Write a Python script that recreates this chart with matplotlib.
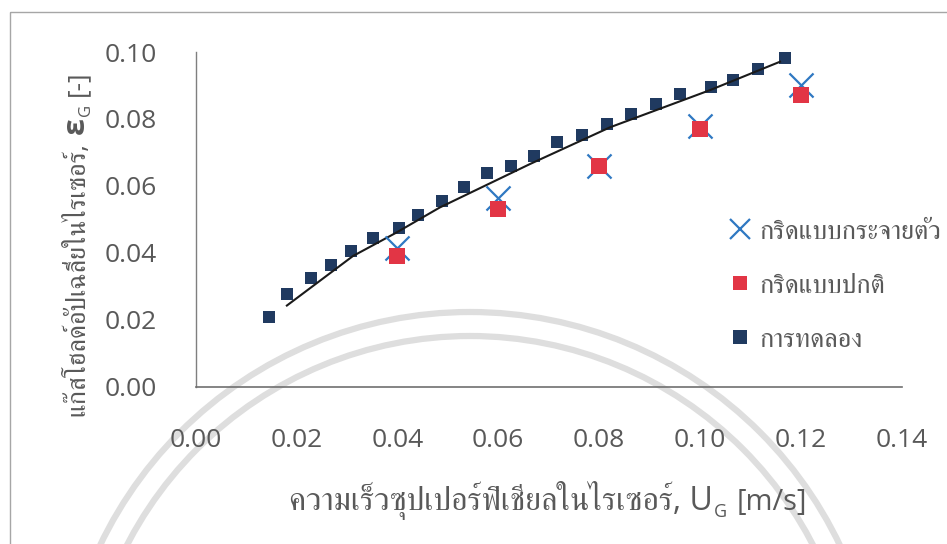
import numpy as np
import matplotlib
matplotlib.use("Agg")
import matplotlib.pyplot as plt
from matplotlib.lines import Line2D
from matplotlib.patches import Arc, Rectangle
from matplotlib.ticker import FormatStrFormatter

# Thai glyphs are only found in FreeSerif, so it sits after the Latin face
plt.rcParams['font.family'] = ['Open Sans', 'FreeSerif', 'DejaVu Sans']

# experimental gas hold-up in the riser
ug_exp = [0.0146, 0.0181, 0.0228, 0.0268, 0.0309, 0.0352, 0.0403, 0.0442,
          0.0488, 0.0533, 0.0578, 0.0625, 0.0671, 0.0717, 0.0766, 0.0815,
          0.0863, 0.0913, 0.0961, 0.1023, 0.1065, 0.1115, 0.1168]
eg_exp = [0.0208, 0.0278, 0.0325, 0.0362, 0.0406, 0.0445, 0.0473, 0.0513,
          0.0555, 0.0595, 0.0637, 0.0660, 0.0690, 0.0730, 0.0752, 0.0785,
          0.0815, 0.0845, 0.0875, 0.0895, 0.0915, 0.0950, 0.0983]

# simulation results for the two grids
ug_sim = [0.04, 0.06, 0.08, 0.10, 0.12]
eg_uniform = [0.039, 0.053, 0.066, 0.077, 0.087]
eg_dispersed = [0.0415, 0.0565, 0.066, 0.078, 0.090]

# trend curve through the experimental data
ug_fit = [0.0181, 0.0312, 0.0398, 0.0484, 0.0663, 0.0822, 0.1020, 0.1159]
eg_fit = [0.0242, 0.0390, 0.0460, 0.0535, 0.0665, 0.0775, 0.0886, 0.0971]

lbl_dispersed = 'กริดแบบกระจายตัว'
lbl_uniform = 'กริดแบบปกติ'
lbl_exp = 'การทดลอง'
xlabel_parts = ['ความเร็วซุปเปอร์ฟิเชียลในไรเซอร์, U', 'G', '[m/s]']
ylabel_parts = ['แก๊สโฮลด์อัปเฉลี่ยในไรเซอร์,', 'ε', 'G', '[-]']

TXT = '#595959'
W, H = 947, 544
fig = plt.figure(figsize=(W / 100, H / 100), dpi=100)


def pieced_label(parts, cx, base, vertical=False):
    """Lay out (text, size, weight, drop, gap) runs one after another.

    Mathtext cannot fall back to the Thai face, so subscripts are
    drawn as separate small runs.  cx is the centre along the text
    direction, base the baseline position, both in pixels from the
    bottom-left corner.
    """
    renderer = fig.canvas.get_renderer()
    runs = []
    total = 0.0
    for s, size, weight, drop, gap in parts:
        t = fig.text(0, 0, s, fontsize=size, fontweight=weight, color=TXT,
                     ha='left', va='baseline', rotation_mode='anchor')
        w = t.get_window_extent(renderer).width
        runs.append((t, total + gap, drop))
        total += gap + w
    start = cx - total / 2
    for t, off, drop in runs:
        if vertical:
            t.set_rotation(90)
            t.set_position(((base + drop) / W, (start + off) / H))
        else:
            t.set_position(((start + off) / W, (base - drop) / H))


# background layer: chart frame and the faint seal behind the plot
bg = fig.add_axes([0, 0, 1, 1], zorder=-5)
bg.set_xlim(0, W)
bg.set_ylim(H, 0)
bg.axis('off')
for r in (410, 386):
    bg.add_patch(Arc((470, 722), 2 * r, 2 * r, theta1=180, theta2=360,
                     color='#dedede', lw=4.5))
bg.add_patch(Rectangle((10, 12), W + 20, H + 20, fill=False,
                       edgecolor='#a6a6a6', lw=1.0))

ax = fig.add_axes([195.6 / W, 1 - 386.5 / H, 706 / W, 334.5 / H])
ax.patch.set_alpha(0)

ax.scatter(ug_exp, eg_exp, marker='s', s=80, color='#203a60', zorder=2,
           linewidths=0)
ax.plot(ug_fit, eg_fit, color='#1a1a1a', lw=1.5, zorder=3)
ax.scatter(ug_sim, eg_dispersed, marker='x', s=300, color='#2f78c2',
           linewidths=1.6, zorder=4)
ax.scatter(ug_sim, eg_uniform, marker='s', s=125, color='#e23545',
           linewidths=0, zorder=5)

ax.set_xlim(0, 0.14)
ax.set_ylim(0, 0.10)
ax.set_xticks(np.arange(0, 0.141, 0.02))
ax.set_yticks(np.arange(0, 0.101, 0.02))
ax.xaxis.set_major_formatter(FormatStrFormatter('%.2f'))
ax.yaxis.set_major_formatter(FormatStrFormatter('%.2f'))
ax.tick_params(axis='both', length=0, labelsize=19, labelcolor=TXT)
ax.tick_params(axis='x', pad=30)
ax.tick_params(axis='y', pad=28)

for side in ('top', 'right'):
    ax.spines[side].set_visible(False)
ax.spines['left'].set_color('#7f7f7f')
ax.spines['bottom'].set_color('#6f6f6f')
ax.spines['left'].set_linewidth(1.0)
ax.spines['bottom'].set_linewidth(1.2)

# axis titles, built run by run
pieced_label([(xlabel_parts[0], 23, 'normal', 0, 0),
              (xlabel_parts[1], 13, 'normal', 7, 1),
              (xlabel_parts[2], 21, 'normal', 0, 9)],
             cx=548, base=H - 510)
pieced_label([(ylabel_parts[0], 19, 'normal', 0, 0),
              (ylabel_parts[1], 22, 'bold', 0, 8),
              (ylabel_parts[2], 12, 'normal', 6, 1),
              (ylabel_parts[3], 19, 'normal', 0, 8)],
             cx=H - 243, base=84, vertical=True)

handles = [
    Line2D([], [], ls='none', marker='x', ms=15, mew=1.6, color='#2f78c2'),
    Line2D([], [], ls='none', marker='s', ms=10, mew=0, color='#e23545'),
    Line2D([], [], ls='none', marker='s', ms=10, mew=0, color='#203a60'),
]
leg = ax.legend(handles, [lbl_dispersed, lbl_uniform, lbl_exp],
                loc='center left', bbox_to_anchor=(0.735, 0.30),
                frameon=False, fontsize=19, labelspacing=1.1,
                handlelength=0.9, handletextpad=0.3, borderpad=0)
for t in leg.get_texts():
    t.set_color(TXT)

fig.savefig('out.png', dpi=100)
